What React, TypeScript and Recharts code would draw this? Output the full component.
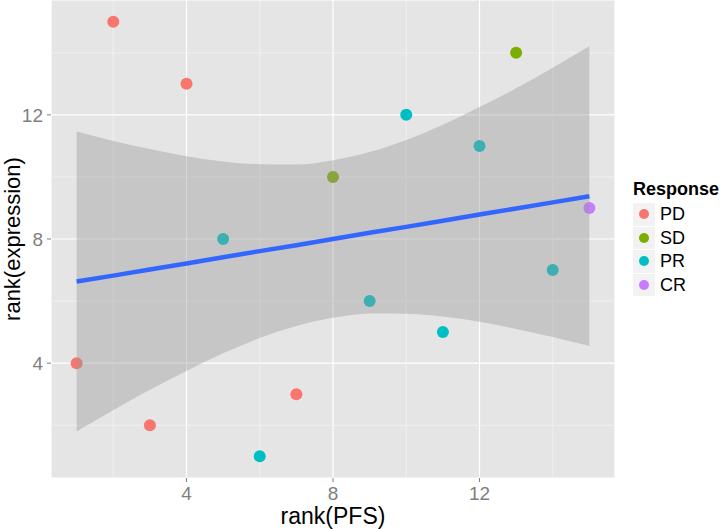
import { ComposedChart, XAxis, YAxis, CartesianGrid, ReferenceLine, Scatter, Area, Line } from 'recharts';

const FONT = '"Liberation Sans", Arial, sans-serif';

// ranks of the 15 patients
const pfsRank = [1, 2, 3, 4, 5, 6, 7, 8, 9, 10, 11, 12, 13, 14, 15];
const expressionRank = [4, 15, 2, 13, 8, 1, 3, 10, 6, 12, 5, 11, 14, 7, 9];
const response = ['PD', 'PD', 'PD', 'PD', 'PR', 'PR', 'PD', 'SD', 'PR', 'PR', 'PR', 'PR', 'SD', 'PR', 'CR'];

const responseLevels = ['PD', 'SD', 'PR', 'CR'];
const responseColors = ['#F8766D', '#7CAE00', '#00BFC4', '#C77CFF'];

// fitted line and its confidence band, read at each rank
const fit = [6.63, 6.82, 7.02, 7.21, 7.41, 7.61, 7.8, 8.0, 8.2, 8.39, 8.59, 8.79, 8.98, 9.18, 9.38];
const bandLow = [1.8, 2.48, 3.14, 3.75, 4.32, 4.81, 5.2, 5.46, 5.6, 5.59, 5.5, 5.33, 5.1, 4.84, 4.55];
const bandHigh = [11.46, 11.16, 10.9, 10.67, 10.5, 10.41, 10.4, 10.54, 10.8, 11.19, 11.68, 12.25, 12.86, 13.52, 14.21];

const majorTicks = [4, 8, 12];
const minorTicks = [2, 6, 10, 14];

const fitRows = pfsRank.map((x, i) => ({ x, fit: fit[i], band: [bandLow[i], bandHigh[i]] }));

const pointsFor = (level: string) =>
  pfsRank
    .map((x, i) => ({ x, y: expressionRank[i], response: response[i] }))
    .filter((p) => p.response === level);

const tickStyle = { fill: '#7F7F7F', fontSize: 19, fontFamily: FONT };

const Legend = () => (
  <div style={{ position: 'absolute', left: 633, top: 178, fontFamily: FONT }}>
    <div style={{ fontWeight: 'bold', fontSize: 18, height: 25, lineHeight: '22px' }}>Response</div>
    {responseLevels.map((level, i) => (
      <div key={level} style={{ display: 'flex', alignItems: 'center', height: 23.5 }}>
        <div
          style={{
            width: 22,
            height: 22.5,
            background: '#F2F2F2',
            borderBottom: '1px solid #fff',
            display: 'flex',
            alignItems: 'center',
            justifyContent: 'center',
          }}
        >
          <div style={{ width: 10, height: 10, borderRadius: 5, background: responseColors[i] }} />
        </div>
        <span style={{ fontSize: 18, marginLeft: 5 }}>{level}</span>
      </div>
    ))}
  </div>
);

export default function App() {
  return (
    <div style={{ position: 'absolute', left: 0, top: 0, width: 726, height: 529 }}>
      <ComposedChart width={726} height={529} data={fitRows} margin={{ top: 0, right: 111, bottom: 0, left: 0 }}>
        <CartesianGrid fill="#E5E5E5" stroke="#FFFFFF" strokeWidth={1.2} />
        {minorTicks.map((v) => (
          <ReferenceLine key={`vx${v}`} x={v} stroke="#F2F2F2" strokeWidth={0.8} zIndex={-90} />
        ))}
        {minorTicks.map((v) => (
          <ReferenceLine key={`hy${v}`} y={v} stroke="#F2F2F2" strokeWidth={0.8} zIndex={-90} />
        ))}
        <XAxis
          type="number"
          dataKey="x"
          domain={[0.3, 15.7]}
          ticks={majorTicks}
          allowDataOverflow
          height={51}
          axisLine={false}
          tickSize={4}
          tickMargin={5}
          tickLine={{ stroke: '#7F7F7F' }}
          tick={tickStyle}
        />
        <YAxis
          type="number"
          domain={[0.3, 15.7]}
          ticks={majorTicks}
          allowDataOverflow
          width={51}
          axisLine={false}
          tickSize={4}
          tickMargin={4}
          tickLine={{ stroke: '#7F7F7F' }}
          tick={tickStyle}
        />
        {responseLevels.map((level, i) => (
          <Scatter
            key={level}
            name={level}
            data={pointsFor(level)}
            dataKey="y"
            isAnimationActive={false}
            zIndex={50}
            shape={(p: any) => <circle cx={p.cx} cy={p.cy} r={6} fill={responseColors[i]} />}
          />
        ))}
        <Area
          type="monotone"
          dataKey="band"
          stroke="none"
          fill="#999999"
          fillOpacity={0.4}
          isAnimationActive={false}
          zIndex={100}
        />
        <Line
          type="linear"
          dataKey="fit"
          stroke="#3366FF"
          strokeWidth={4.5}
          dot={false}
          activeDot={false}
          isAnimationActive={false}
          zIndex={400}
        />
        <text x={333} y={524} textAnchor="middle" fontSize={23} fontFamily={FONT} fill="#000">
          rank(PFS)
        </text>
        <text
          x={20}
          y={239}
          textAnchor="middle"
          fontSize={22}
          fontFamily={FONT}
          fill="#000"
          transform="rotate(-90, 20, 239)"
        >
          rank(expression)
        </text>
      </ComposedChart>
      <Legend />
    </div>
  );
}
